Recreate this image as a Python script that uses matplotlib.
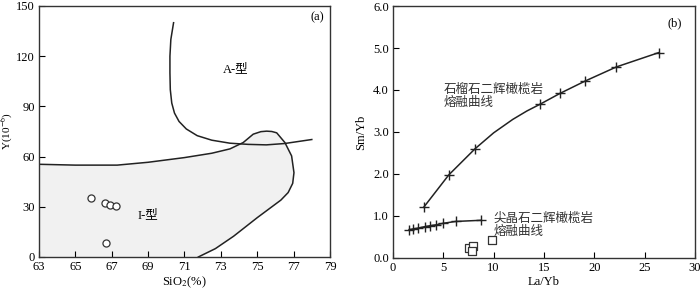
import matplotlib
matplotlib.use("Agg")
import matplotlib.pyplot as plt

plt.rcParams['font.family'] = ['Liberation Serif', 'Noto Sans CJK SC']
plt.rcParams['mathtext.fontset'] = 'stix'

# ---- Panel (a) data ----
sio2_pts = [65.86, 66.63, 66.92, 67.25, 66.67]
y_pts = [35.0, 32.2, 31.0, 30.4, 8.6]

a_curve_x = [70.4, 70.25, 70.2, 70.2, 70.22, 70.3, 70.45, 70.7, 71.1, 71.7, 72.5, 73.5, 74.5, 75.5, 76.5, 78.0]
a_curve_y = [140, 130, 120, 110, 100, 92, 86, 81, 76.5, 72.5, 69.8, 68.0, 67.3, 67.0, 67.8, 70.2]

i_curve_x = [63.0, 65.0, 67.3, 69.0, 71.0, 72.5, 73.5, 74.23, 74.78, 75.2, 75.52, 75.8, 76.07, 76.52, 76.89, 77.02, 76.95, 76.7, 76.3, 75.0, 73.7, 72.7, 71.76]
i_curve_y = [55.4, 54.9, 54.9, 56.6, 59.4, 62.0, 64.6, 68.4, 73.4, 74.9, 75.2, 75.0, 74.2, 68.4, 60.4, 50.4, 44.0, 38.5, 34.0, 23.5, 12.4, 5.0, 0.0]

a_xticks = [63, 65, 67, 69, 71, 73, 75, 77, 79]
a_yticks = [0, 30, 60, 90, 120, 150]

# ---- Panel (b) data ----
grt_line_x = [3.06, 5.55, 8.15, 10.0, 11.9, 13.3, 14.6, 16.6, 19.06, 22.2, 26.4]
grt_line_y = [1.21, 1.98, 2.60, 2.98, 3.30, 3.50, 3.66, 3.92, 4.21, 4.55, 4.89]
grt_mark_x = [3.06, 5.55, 8.15, 14.6, 16.6, 19.06, 22.2, 26.4]
grt_mark_y = [1.21, 1.98, 2.60, 3.66, 3.92, 4.21, 4.55, 4.89]

spl_x = [1.63, 1.96, 2.46, 3.16, 3.72, 4.29, 4.96, 6.22, 8.71]
spl_y = [0.675, 0.69, 0.71, 0.746, 0.77, 0.79, 0.825, 0.87, 0.897]

sq_x = [7.55, 7.95, 7.88, 9.81]
sq_y = [0.23, 0.28, 0.175, 0.44]

b_xticks = [0, 5, 10, 15, 20, 25, 30]
b_yticks = [0.0, 1.0, 2.0, 3.0, 4.0, 5.0, 6.0]

fig = plt.figure(figsize=(7.0, 2.93), dpi=100)
ax1 = fig.add_axes([0.0557, 0.1229, 0.4157, 0.8567])
ax2 = fig.add_axes([0.5614, 0.1195, 0.4314, 0.8600])

lw = 1.1
# Panel (a)
poly_x = [63.0] + i_curve_x + [63.0]
poly_y = [0.0] + i_curve_y + [0.0]
ax1.fill(poly_x, poly_y, color='#f1f1f1', zorder=1, lw=0)
ax1.plot(i_curve_x, i_curve_y, color='#222222', lw=lw, zorder=2)
ax1.plot(a_curve_x, a_curve_y, color='#222222', lw=lw, zorder=2)
ax1.scatter(sio2_pts, y_pts, s=26, facecolors='white', edgecolors='#333333', linewidths=0.9, zorder=3)
ax1.set_xlim(63, 79)
ax1.set_ylim(0, 150)
ax1.set_xticks(a_xticks)
ax1.set_yticks(a_yticks)
ax1.text(73.8, 112, 'A-型', fontsize=9, ha='center', va='center')
ax1.text(69.0, 25, 'I-型', fontsize=9, ha='center', va='center')
ax1.text(78.3, 143.5, '(a)', fontsize=9, ha='center', va='center')
ax1.set_xlabel('SiO$_2$(%)', fontsize=9, labelpad=1)
ax1.set_ylabel('Y(10$^{-6}$)', fontsize=8)
ax1.yaxis.set_label_coords(-0.082, 0.5)

# Panel (b)
ax2.plot(grt_line_x, grt_line_y, color='#222222', lw=lw)
ax2.plot(grt_mark_x, grt_mark_y, ls='none', marker='+', ms=7, mew=1.0, color='#222222')
ax2.plot(spl_x, spl_y, color='#222222', lw=lw, marker='+', ms=7, mew=1.0)
ax2.scatter(sq_x, sq_y, s=40, marker='s', facecolors='white', edgecolors='#333333', linewidths=0.9, zorder=3)
ax2.set_xlim(0, 30)
ax2.set_ylim(0, 6)
ax2.set_xticks(b_xticks)
ax2.set_yticks(b_yticks)
ax2.set_yticklabels(['%.1f' % v for v in b_yticks])
ax2.text(5.0, 4.15, '石榴石二辉橄榄岩\n熔融曲线', fontsize=9, ha='left', va='top', linespacing=1.1, color='#333333')
ax2.text(10.0, 1.08, '尖晶石二辉橄榄岩\n熔融曲线', fontsize=9, ha='left', va='top', linespacing=1.1, color='#333333')
ax2.text(28.0, 5.6, '(b)', fontsize=9, ha='center', va='center')
ax2.set_xlabel('La/Yb', fontsize=9, labelpad=1)
ax2.set_ylabel('Sm/Yb', fontsize=9, labelpad=4)

for ax in (ax1, ax2):
    ax.tick_params(direction='in', labelsize=9, length=4, width=0.8, pad=3)
    for s in ax.spines.values():
        s.set_linewidth(1.0)
        s.set_color('#333333')

fig.savefig('out.png', dpi=100)
